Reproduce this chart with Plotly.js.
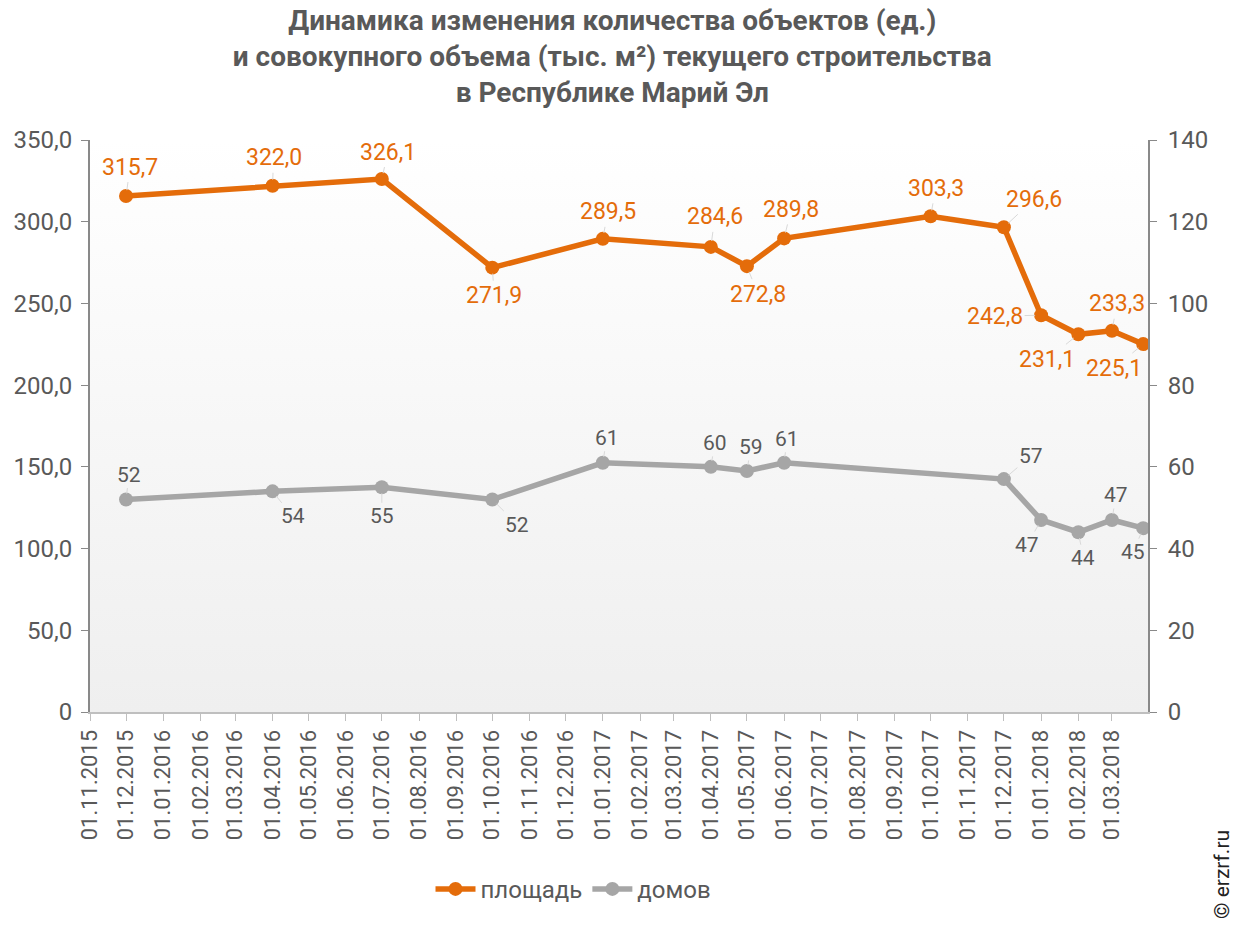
<!DOCTYPE html>
<html>
<head>
<meta charset="utf-8">
<script src="https://cdn.plot.ly/plotly-3.0.1.min.js"></script>
<style>
html,body{margin:0;padding:0;background:#fff;}
#chart{width:1242px;height:926px;}
</style>
</head>
<body>
<div id="chart"></div>
<script>
// ---- data ----
const dates = ['2015-12-01','2016-04-01','2016-07-01','2016-10-01','2017-01-01','2017-04-01','2017-05-01','2017-06-01','2017-10-01','2017-12-01','2018-01-01','2018-02-01','2018-03-01','2018-03-27'];
const area = [315.7,322.0,326.1,271.9,289.5,284.6,272.8,289.8,303.3,296.6,242.8,231.1,233.3,225.1];
const houses = [52,54,55,52,61,60,59,61,null,57,47,44,47,45];
const seriesNames = ['площадь','домов'];
const leftTickVals = [0,50,100,150,200,250,300,350];
const leftTickText = ['0','50,0','100,0','150,0','200,0','250,0','300,0','350,0'];
const rightTickVals = [0,20,40,60,80,100,120,140];
const titleLines = ['Динамика изменения количества объектов (ед.)','и совокупного объема (тыс. м²) текущего строительства','в Республике Марий Эл'];
const watermark = '© erzrf.ru';

// ---- label placement (pixel offsets of label centres from points) ----
const areaLabelOffsets = [[4,-29],[1,-28],[6,-27],[2,28],[5,-27],[4,-30],[11,28],[7,-29],[5,-28],[30,-28],[-46,1],[-31,25],[5,-27],[-29,24]];
const houseLabelOffsets = [[3,-25],[20,25],[0,29],[25,25],[4,-25],[4,-24],[4,-24],[3,-24],null,[27,-23],[-14,25],[5,26],[4,-25],[-10,24]];

const ORANGE = '#E46C0A';
const GRAY = '#A6A6A6';
const TXT = '#595959';
const FONT = 'Roboto, "Noto Sans", sans-serif';

const fmt1 = v => v.toFixed(1).replace('.', ',');

const annotations = [];
area.forEach((v,i) => {
  const o = areaLabelOffsets[i];
  annotations.push({
    x: dates[i], y: v, xref: 'x', yref: 'y',
    text: fmt1(v), showarrow: true, arrowhead: 0, arrowwidth: 1, arrowcolor: '#d9d9d9',
    standoff: 6, ax: o[0], ay: o[1], axref: 'pixel', ayref: 'pixel',
    font: {family: FONT, size: 23, color: ORANGE}
  });
});
houses.forEach((v,i) => {
  if (v === null) return;
  const o = houseLabelOffsets[i];
  annotations.push({
    x: dates[i], y: v, xref: 'x', yref: 'y2',
    text: String(v), showarrow: true, arrowhead: 0, arrowwidth: 1, arrowcolor: '#d9d9d9',
    standoff: 6, ax: o[0], ay: o[1], axref: 'pixel', ayref: 'pixel',
    font: {family: FONT, size: 21, color: TXT}
  });
});
annotations.push({
  xref: 'paper', yref: 'paper', x: 1.07, y: -0.285, xanchor: 'center', yanchor: 'middle',
  text: watermark, textangle: -90, showarrow: false,
  font: {family: FONT, size: 21, color: '#222'}
});

const gradSvg = "<svg xmlns='http://www.w3.org/2000/svg' width='100' height='100' viewBox='0 0 100 100' preserveAspectRatio='none'><defs><linearGradient id='g' x1='0' y1='0' x2='0' y2='1'><stop offset='0' stop-color='#ffffff'/><stop offset='1' stop-color='#efefef'/></linearGradient></defs><rect x='0' y='0' width='100' height='100' fill='url(#g)'/></svg>";
const gradUri = 'data:image/svg+xml;charset=utf-8,' + encodeURIComponent(gradSvg);

const traces = [
  {
    type: 'scatter', mode: 'lines+markers', name: seriesNames[0],
    x: dates, y: area, yaxis: 'y',
    line: {color: ORANGE, width: 5.5},
    marker: {color: ORANGE, size: 14},
    hoverinfo: 'skip'
  },
  {
    type: 'scatter', mode: 'lines+markers', name: seriesNames[1],
    x: dates, y: houses, yaxis: 'y2', connectgaps: true,
    line: {color: GRAY, width: 5.5},
    marker: {color: GRAY, size: 14},
    hoverinfo: 'skip'
  }
];

const layout = {
  width: 1242, height: 926,
  margin: {l: 90, r: 94, t: 140, b: 214},
  paper_bgcolor: '#ffffff',
  plot_bgcolor: 'rgba(0,0,0,0)',
  font: {family: FONT, color: TXT},
  title: {
    text: titleLines.join('<br>'),
    font: {family: FONT, size: 28, color: TXT, weight: 'bold'},
    x: 0.493, xanchor: 'center', xref: 'container',
    y: 0.968, yanchor: 'top', yref: 'container'
  },
  xaxis: {
    type: 'date', range: ['2015-11-01', '2018-03-31'],
    tickmode: 'linear', tick0: '2015-11-01', dtick: 'M1', tickformat: '%d.%m.%Y',
    tickangle: -90, ticks: 'outside', ticklen: 7, tickcolor: '#bfbfbf', tickwidth: 1,
    showline: true, linecolor: '#bfbfbf', linewidth: 2,
    showgrid: false, zeroline: false,
    tickfont: {family: FONT, size: 22, color: TXT}
  },
  yaxis: {
    range: [0, 350], tickmode: 'array', tickvals: leftTickVals, ticktext: leftTickText,
    ticks: 'outside', ticklen: 7, tickcolor: '#898989', tickwidth: 1,
    showline: true, linecolor: '#898989', linewidth: 2,
    showgrid: false, zeroline: false, ticklabelstandoff: 4,
    tickfont: {family: FONT, size: 24, color: TXT}
  },
  yaxis2: {
    range: [0, 140], tickmode: 'array', tickvals: rightTickVals,
    overlaying: 'y', side: 'right',
    ticks: 'outside', ticklen: 7, tickcolor: '#898989', tickwidth: 1,
    showline: true, linecolor: '#898989', linewidth: 2,
    showgrid: false, zeroline: false, ticklabelstandoff: 6,
    tickfont: {family: FONT, size: 24, color: TXT}
  },
  legend: {
    orientation: 'h', x: 0.457, xanchor: 'center', y: -0.31, yanchor: 'middle',
    font: {family: FONT, size: 24, color: TXT},
    itemwidth: 40,
    bgcolor: 'rgba(0,0,0,0)'
  },
  images: [{
    source: gradUri, xref: 'paper', yref: 'paper', x: 0, y: 1, sizex: 1, sizey: 1,
    xanchor: 'left', yanchor: 'top', sizing: 'stretch', layer: 'below'
  }],
  annotations: annotations,
  showlegend: true
};

Plotly.newPlot('chart', traces, layout, {displayModeBar: false, staticPlot: true});
</script>
</body>
</html>
